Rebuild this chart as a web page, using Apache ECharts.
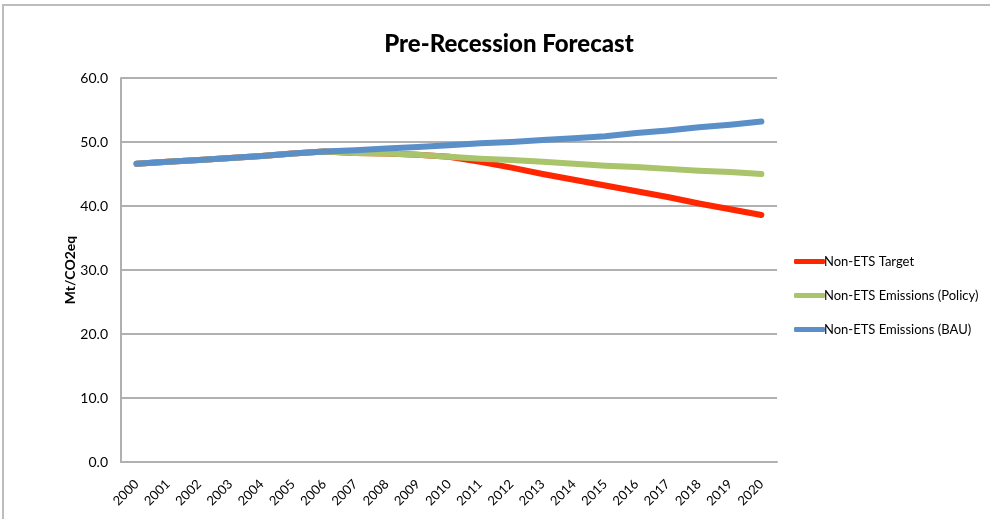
<!DOCTYPE html>
<html>
<head>
<meta charset="utf-8">
<style>
  html, body { margin: 0; padding: 0; background: #fff; }
  #chart { width: 990px; height: 519px; }
</style>
<script src="https://cdn.jsdelivr.net/npm/echarts@6/dist/echarts.min.js"></script>
</head>
<body>
<div id="chart"></div>
<script>
// Years on the category axis
const years = ['2000','2001','2002','2003','2004','2005','2006','2007','2008','2009','2010',
               '2011','2012','2013','2014','2015','2016','2017','2018','2019','2020'];

// Non-ETS target path (Mt CO2eq)
const targetValues = [46.6, 46.9, 47.2, 47.5, 47.8, 48.2, 48.5, 48.3, 48.2, 48.0, 47.7,
                      46.9, 46.0, 45.0, 44.1, 43.2, 42.3, 41.4, 40.4, 39.5, 38.6];

// Non-ETS emissions with policy measures
const policyValues = [46.6, 46.9, 47.2, 47.5, 47.8, 48.2, 48.5, 48.3, 48.2, 48.0, 47.7,
                      47.4, 47.2, 46.9, 46.6, 46.3, 46.1, 45.8, 45.5, 45.3, 45.0];

// Non-ETS emissions, business as usual
const bauValues = [46.6, 46.9, 47.2, 47.5, 47.8, 48.2, 48.5, 48.7, 49.0, 49.2, 49.5,
                   49.8, 50.0, 50.3, 50.6, 50.9, 51.4, 51.8, 52.3, 52.7, 53.2];

const seriesNames = ['Non-ETS Target', 'Non-ETS Emissions (Policy)', 'Non-ETS Emissions (BAU)'];
const seriesColors = ['#ff2600', '#a9c46a', '#5b8fc8'];
const yAxisTitle = 'Mt/CO2eq';

const font = 'Lato, "Noto Sans", sans-serif';
const chart = echarts.init(document.getElementById('chart'), null, { renderer: 'canvas' });

function lineSeries(name, data, color) {
  return {
    name: name,
    type: 'line',
    data: data,
    symbol: 'none',
    smooth: false,
    lineStyle: { color: color, width: 6, cap: 'round', join: 'round' },
    itemStyle: { color: color }
  };
}

chart.setOption({
  animation: false,
  backgroundColor: '#fff',
  graphic: [{
    type: 'rect',
    shape: { x: 3, y: 5, width: 1000, height: 600 },
    style: { fill: 'none', stroke: '#bdbdbd', lineWidth: 2 },
    silent: true
  }, {
    // vertical value-axis title
    type: 'text',
    x: 70,
    y: 270,
    rotation: Math.PI / 2,
    style: {
      text: yAxisTitle,
      fontFamily: font,
      fontSize: 14,
      fontWeight: 'bold',
      fill: '#000',
      align: 'center',
      verticalAlign: 'middle'
    },
    silent: true
  }],
  title: {
    text: 'Pre-Recession Forecast',
    left: 504,
    textAlign: 'center',
    top: 27,
    textStyle: { fontFamily: font, fontSize: 24, fontWeight: 900, color: '#000' }
  },
  legend: {
    orient: 'vertical',
    left: 789,
    top: 250,
    itemWidth: 31,
    itemHeight: 5,
    itemGap: 21,
    icon: 'roundRect',
    data: seriesNames,
    textStyle: { fontFamily: font, fontSize: 13, color: '#000', padding: [0, 0, 0, -6] }
  },
  grid: { left: 121, right: 213, top: 78, bottom: 57, containLabel: false },
  xAxis: {
    type: 'category',
    data: years,
    boundaryGap: true,
    axisLine: { show: true, lineStyle: { color: '#b0b0b0', width: 2 } },
    axisTick: { show: false },
    axisLabel: {
      rotate: 45,
      interval: 0,
      margin: 20,
      fontFamily: font,
      fontSize: 13,
      color: '#000'
    }
  },
  yAxis: {
    type: 'value',
    min: 0,
    max: 60,
    interval: 10,
    axisLine: { show: true, lineStyle: { color: '#b0b0b0', width: 2 } },
    axisTick: { show: false },
    splitLine: { show: true, lineStyle: { color: '#b0b0b0', width: 2 } },
    axisLabel: {
      formatter: v => v.toFixed(1),
      margin: 13,
      fontFamily: font,
      fontSize: 14,
      color: '#000'
    }
  },
  series: [
    lineSeries(seriesNames[0], targetValues, seriesColors[0]),
    lineSeries(seriesNames[1], policyValues, seriesColors[1]),
    lineSeries(seriesNames[2], bauValues, seriesColors[2])
  ]
});
</script>
</body>
</html>
